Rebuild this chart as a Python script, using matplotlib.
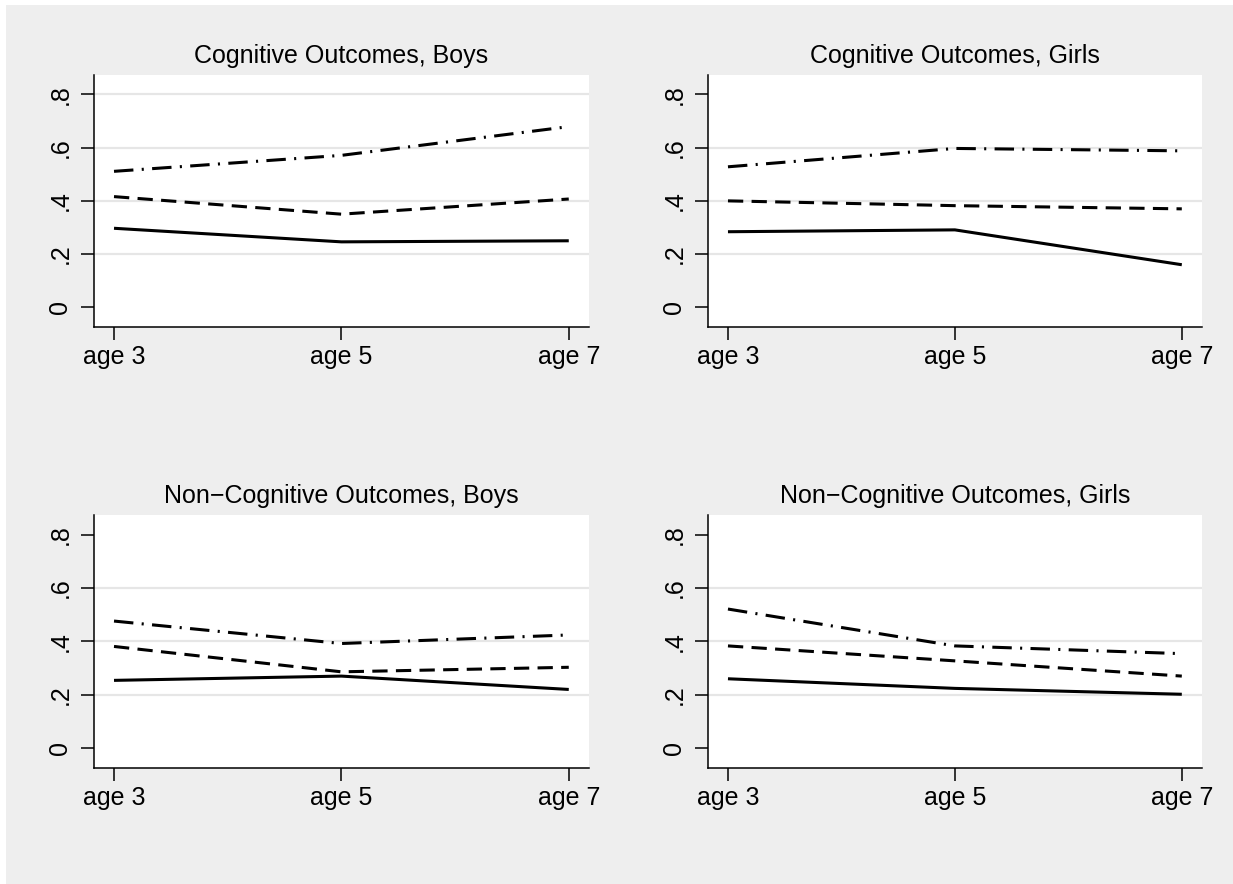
import matplotlib
matplotlib.use('Agg')
import matplotlib.pyplot as plt
from matplotlib.patches import Rectangle

plt.rcParams['font.family'] = ['Liberation Sans', 'DejaVu Sans']
plt.rcParams['lines.scale_dashes'] = False

# Edades en el eje x
ages = [3, 5, 7]
age_labels = ['age 3', 'age 5', 'age 7']

titles = ['Cognitive Outcomes, Boys', 'Cognitive Outcomes, Girls',
          'Non\u2212Cognitive Outcomes, Boys', 'Non\u2212Cognitive Outcomes, Girls']

# Tres series por panel: solida, discontinua, punto-raya
cog_boys_solid = [0.297, 0.246, 0.250]
cog_boys_dash = [0.416, 0.350, 0.407]
cog_boys_dashdot = [0.511, 0.571, 0.679]

cog_girls_solid = [0.284, 0.291, 0.160]
cog_girls_dash = [0.400, 0.382, 0.370]
cog_girls_dashdot = [0.528, 0.597, 0.588]

noncog_boys_solid = [0.254, 0.270, 0.220]
noncog_boys_dash = [0.381, 0.286, 0.303]
noncog_boys_dashdot = [0.476, 0.392, 0.424]

noncog_girls_solid = [0.260, 0.224, 0.202]
noncog_girls_dash = [0.383, 0.327, 0.270]
noncog_girls_dashdot = [0.521, 0.383, 0.354]

yticks = [0, 0.2, 0.4, 0.6, 0.8]
ytick_labels = ['0', '.2', '.4', '.6', '.8']

# Lineas de fondo en cada panel (el primero tambien tiene la de .8)
grids = [[0.2, 0.4, 0.6, 0.8], [0.2, 0.4, 0.6], [0.2, 0.4, 0.6], [0.2, 0.4, 0.6]]

panels = [
    (cog_boys_solid, cog_boys_dash, cog_boys_dashdot),
    (cog_girls_solid, cog_girls_dash, cog_girls_dashdot),
    (noncog_boys_solid, noncog_boys_dash, noncog_boys_dashdot),
    (noncog_girls_solid, noncog_girls_dash, noncog_girls_dashdot),
]

W, H = 1233, 884
fig = plt.figure(figsize=(W / 100, H / 100), dpi=100, facecolor='white')
fondo = Rectangle((6 / W, 0), 1 - 6 / W, 1 - 5 / H, transform=fig.transFigure,
                  facecolor='#eeeeee', edgecolor='none', zorder=-10)
fig.patches.append(fondo)

# Posiciones en pixeles: (izquierda, arriba, derecha, abajo)
boxes = [(94, 75, 589, 327), (708, 75, 1202, 327),
         (94, 515, 589, 768), (708, 515, 1202, 768)]

for i, (l, t, r, b) in enumerate(boxes):
    ax = fig.add_axes([l / W, 1 - b / H, (r - l) / W, (b - t) / H])
    ax.set_zorder(1)
    ax.set_facecolor('white')
    for g in grids[i]:
        ax.axhline(g, color='#e6e6e6', lw=1.6, zorder=1)
    solid, dash, dashdot = panels[i]
    ax.plot(ages, solid, color='black', lw=2.2, solid_capstyle='butt', zorder=3)
    ax.plot(ages, dash, color='black', lw=2.2, dashes=(11, 6), dash_capstyle='butt', zorder=3)
    ax.plot(ages, dashdot, color='black', lw=2.2, dashes=(14, 6, 1.5, 6), dash_capstyle='butt', zorder=3)

    ax.set_xlim(2.824, 7.178)
    ax.set_ylim(-0.074, 0.873)
    ax.set_xticks(ages)
    ax.set_xticklabels(age_labels)
    ax.set_yticks(yticks)
    ax.set_yticklabels(ytick_labels, rotation=90, va='center')
    ax.tick_params(direction='out', length=9.5, width=1.1, labelsize=18, color='black')
    ax.tick_params(axis='x', pad=3.5)
    ax.tick_params(axis='y', pad=6)
    for s in ['top', 'right']:
        ax.spines[s].set_visible(False)
    for s in ['left', 'bottom']:
        ax.spines[s].set_linewidth(1.1)
    ax.set_title(titles[i], fontsize=18, pad=9)

fig.savefig('out.png', dpi=100, facecolor='white')
